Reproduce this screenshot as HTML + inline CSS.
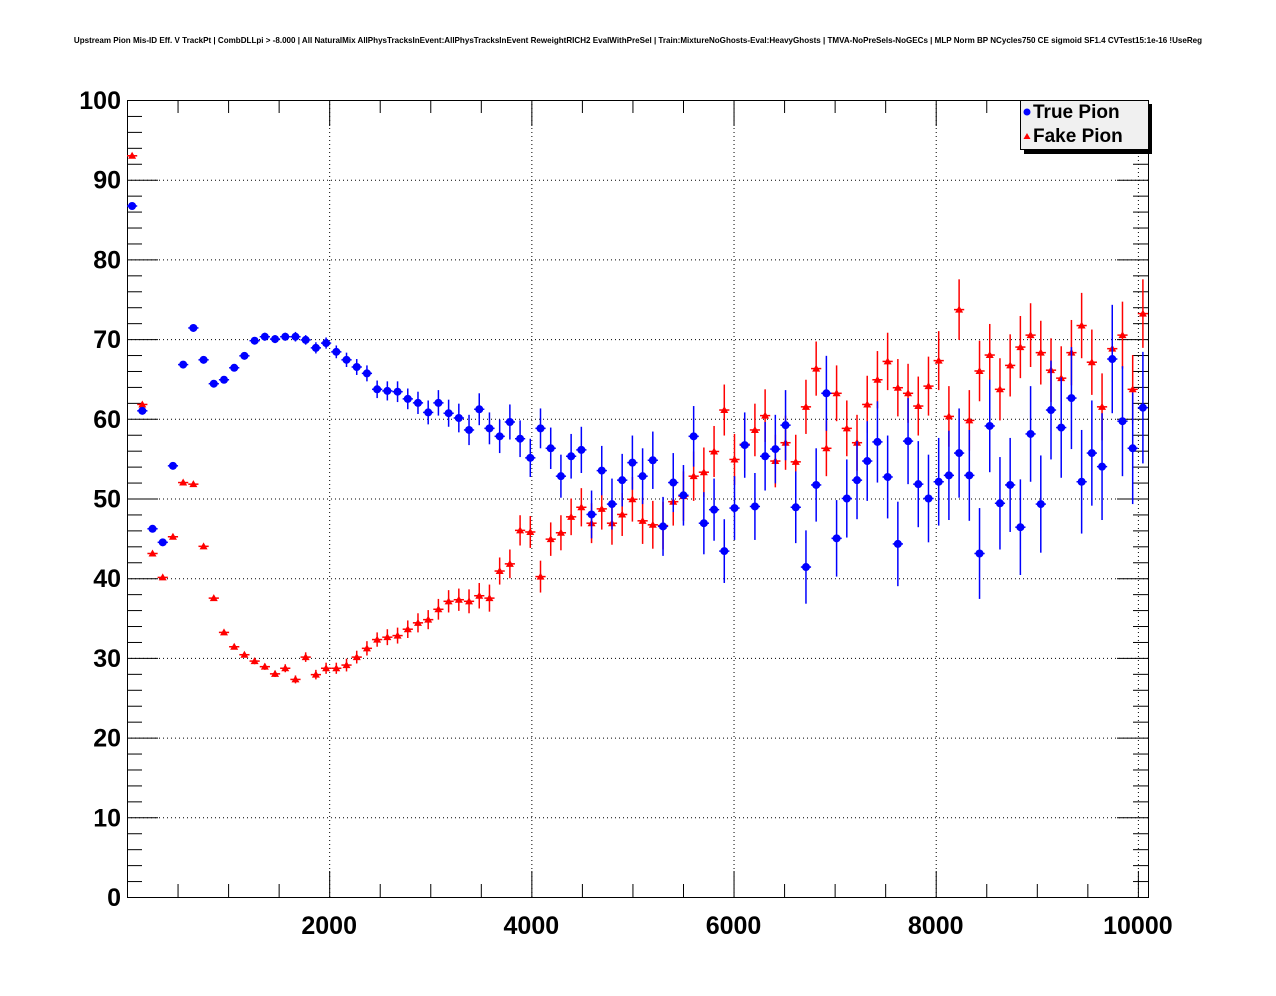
<!DOCTYPE html>
<html><head><meta charset="utf-8"><style>
body{margin:0;background:#fff;}
svg{display:block;font-family:"Liberation Sans",sans-serif;}
</style></head><body>
<svg id="chart" width="1276" height="996" viewBox="0 0 1276 996">
<rect x="0" y="0" width="1276" height="996" fill="#fff"/>
<text x="638" y="43" text-anchor="middle" font-size="8.05" font-weight="bold">Upstream Pion Mis-ID Eff. V TrackPt | CombDLLpi &gt; -8.000 | All NaturalMix AllPhysTracksInEvent:AllPhysTracksInEvent ReweightRICH2 EvalWithPreSel | Train:MixtureNoGhosts-Eval:HeavyGhosts | TMVA-NoPreSels-NoGECs | MLP Norm BP NCycles750 CE sigmoid SF1.4 CVTest15:1e-16 !UseReg</text>
<g id="grid"></g>
<g id="axes"></g>
<g id="series-fake"></g>
<g id="series-true"></g>
<g>
<rect x="1024" y="104" width="128" height="50" fill="#000"/>
<rect x="1020.5" y="100.5" width="128" height="49" fill="#f0f0f0" stroke="#000" stroke-width="1"/>
<circle cx="1027" cy="112" r="3.5" fill="#0000ff"/>
<text x="1033" y="118" font-size="19" font-weight="bold">True Pion</text>
<polygon points="1023.5,139 1030.5,139 1027,133" fill="#ff0000"/>
<text x="1033" y="142" font-size="19" font-weight="bold">Fake Pion</text>
</g>
</svg>
<script>
const binWidth=101;
const binCenters=[];for(let i=0;i<100;i++)binCenters.push(binWidth/2+binWidth*i);
const trueVals=[86.7,61.0,46.2,44.5,54.1,66.8,71.4,67.4,64.4,64.9,
66.4,67.9,69.8,70.3,70.0,70.3,70.3,69.9,68.9,69.5,
68.4,67.4,66.5,65.7,63.7,63.5,63.4,62.5,62.0,60.8,
62.0,60.7,60.1,58.6,61.2,58.8,57.8,59.6,57.5,55.1,
58.8,56.3,52.8,55.3,56.1,48.0,53.5,49.3,52.3,54.5,
52.8,54.8,46.5,52.0,50.4,57.8,46.9,48.6,43.4,48.8,
56.7,49.0,55.3,56.2,59.2,48.9,41.4,51.7,63.2,45.0,
50.0,52.3,54.7,57.1,52.7,44.3,57.2,51.8,50.0,52.1,
52.9,55.7,52.9,43.1,59.1,49.4,51.7,46.4,58.1,49.3,
61.1,58.9,62.6,52.1,55.7,54.0,67.5,59.7,56.3,61.4];
const trueErr=[0.3,0.3,0.3,0.3,0.3,0.3,0.3,0.3,0.3,0.3,
0.4,0.4,0.4,0.5,0.5,0.5,0.6,0.6,0.7,0.7,
0.8,0.9,1.0,1.0,1.1,1.2,1.3,1.3,1.4,1.5,
1.6,1.7,1.8,1.9,2.0,2.0,2.1,2.2,2.3,2.4,
2.5,2.6,2.7,2.8,2.9,3.0,3.1,3.2,3.3,3.4,
3.5,3.6,3.7,3.7,3.8,3.8,3.9,3.9,4.0,4.0,
4.1,4.2,4.3,4.3,4.4,4.5,4.6,4.6,4.7,4.8,
4.9,4.9,5.0,5.1,5.2,5.3,5.4,5.4,5.5,5.5,
5.6,5.6,5.7,5.7,5.8,5.8,5.9,6.0,6.0,6.1,
6.2,6.3,6.4,6.5,6.6,6.7,6.8,6.9,7.0,7.0];
const fakeVals=[93.0,61.8,43.1,40.1,45.2,52.0,51.8,44.0,37.5,33.2,
31.4,30.4,29.6,28.9,28.0,28.7,27.3,30.1,27.9,28.7,
28.7,29.1,30.1,31.2,32.3,32.6,32.8,33.6,34.4,34.8,
36.1,37.1,37.3,37.1,37.8,37.5,40.9,41.8,46.0,45.8,
40.2,44.9,45.7,47.7,48.9,46.9,48.7,46.9,48.0,49.9,
47.2,46.7,46.6,49.6,50.3,52.8,53.3,55.9,61.1,54.9,
56.8,58.6,60.4,54.7,57.0,54.6,61.5,66.3,56.3,63.2,
58.8,57.0,61.8,64.9,67.2,63.9,63.2,61.6,64.1,67.3,
60.3,73.7,59.8,66.0,68.0,63.7,66.7,69.0,70.5,68.3,
66.1,65.1,68.3,71.7,67.1,61.5,68.8,70.5,63.7,73.2];
const fakeErr=[0.2,0.2,0.2,0.2,0.2,0.2,0.2,0.2,0.3,0.3,
0.3,0.3,0.4,0.4,0.4,0.5,0.5,0.6,0.6,0.7,
0.7,0.8,0.8,0.9,0.9,1.0,1.0,1.1,1.2,1.2,
1.3,1.4,1.4,1.5,1.6,1.7,1.7,1.8,1.9,2.0,
2.0,2.1,2.2,2.3,2.4,2.5,2.6,2.7,2.7,2.8,
2.9,3.0,3.0,3.0,3.1,3.1,3.1,3.2,3.2,3.2,
3.3,3.3,3.3,3.3,3.4,3.4,3.4,3.4,3.5,3.5,
3.5,3.5,3.6,3.6,3.6,3.6,3.7,3.7,3.7,3.7,
3.8,3.8,3.8,3.8,3.9,3.9,3.9,3.9,4.0,4.0,
4.0,4.0,4.1,4.1,4.1,4.2,4.2,4.2,4.3,4.3];
const yTickLabels=["0","10","20","30","40","50","60","70","80","90","100"];
const xTickLabels=["2000","4000","6000","8000","10000"];

const NS="http://www.w3.org/2000/svg";
const L=127,R=1148,T=100,B=897,XMIN=0,XMAX=10100,YMIN=0,YMAX=100;
function xs(v){return L+(v-XMIN)/(XMAX-XMIN)*(R-L);}
function ys(v){return B-(v-YMIN)/(YMAX-YMIN)*(B-T);}
function mk(tag,attrs,parent){const e=document.createElementNS(NS,tag);for(const k in attrs)e.setAttribute(k,attrs[k]);parent.appendChild(e);return e;}
const grid=document.getElementById('grid'),axes=document.getElementById('axes');
yTickLabels.forEach(function(t){const v=parseFloat(t);if(v<=YMIN||v>=YMAX)return;
const g=mk('line',{x1:L,x2:R,y1:ys(v)+0.5,y2:ys(v)+0.5,stroke:'#000','stroke-width':1,'stroke-dasharray':'1,3'},grid);

});
xTickLabels.forEach(function(t){const v=parseFloat(t);
const g=mk('line',{x1:xs(v)+0.5,x2:xs(v)+0.5,y1:T,y2:B,stroke:'#000','stroke-width':1,'stroke-dasharray':'1,3'},grid);

});
const fr=mk('rect',{x:L+0.5,y:T+0.5,width:R-L,height:B-T,fill:'none',stroke:'#000','stroke-width':1},axes);


for(let v=0;v<=100;v+=2){const len=(v%10===0)?31:15;const y=ys(v)+0.5;
const a=mk('line',{x1:L,x2:L+len,y1:y,y2:y,stroke:'#000','stroke-width':1},axes);


const b=mk('line',{x1:R-len,x2:R,y1:y,y2:y,stroke:'#000','stroke-width':1},axes);

}
yTickLabels.forEach(function(t){const v=parseFloat(t);
const tx=mk('text',{x:121,y:ys(v)+9,'text-anchor':'end','font-size':25,'font-weight':'bold'},axes);tx.textContent=t;

});
for(let v=500;v<=XMAX;v+=500){const len=(v%2000===0)?26:13;const x=xs(v)+0.5;
const a=mk('line',{x1:x,x2:x,y1:B,y2:B-len,stroke:'#000','stroke-width':1},axes);


const b=mk('line',{x1:x,x2:x,y1:T,y2:T+len,stroke:'#000','stroke-width':1},axes);

}
xTickLabels.forEach(function(t){const v=parseFloat(t);
const tx=mk('text',{x:xs(v),y:934,'text-anchor':'middle','font-size':25,'font-weight':'bold'},axes);tx.textContent=t;

});
function draw(gid,vals,errs,color,shape,name){const g=document.getElementById(gid);
vals.forEach(function(v,i){const cx=xs(binCenters[i]),cy=ys(v);
const h=mk('line',{x1:xs(binCenters[i]-binWidth/2),x2:xs(binCenters[i]+binWidth/2),y1:cy,y2:cy,stroke:color,'stroke-width':1.5},g);


const e=mk('line',{x1:cx,x2:cx,y1:ys(v+errs[i]),y2:ys(v-errs[i]),stroke:color,'stroke-width':1.5},g);


let m;
if(shape==='circle'){m=mk('circle',{cx:cx,cy:cy,r:4,fill:color},g);}
else{m=mk('polygon',{points:(cx-4)+','+(cy+3)+' '+(cx+4)+','+(cy+3)+' '+cx+','+(cy-4),fill:color},g);}

});}
draw('series-fake',fakeVals,fakeErr,'#ff0000','tri','fake-pion');
draw('series-true',trueVals,trueErr,'#0000ff','circle','true-pion');
</script>
</body></html>
